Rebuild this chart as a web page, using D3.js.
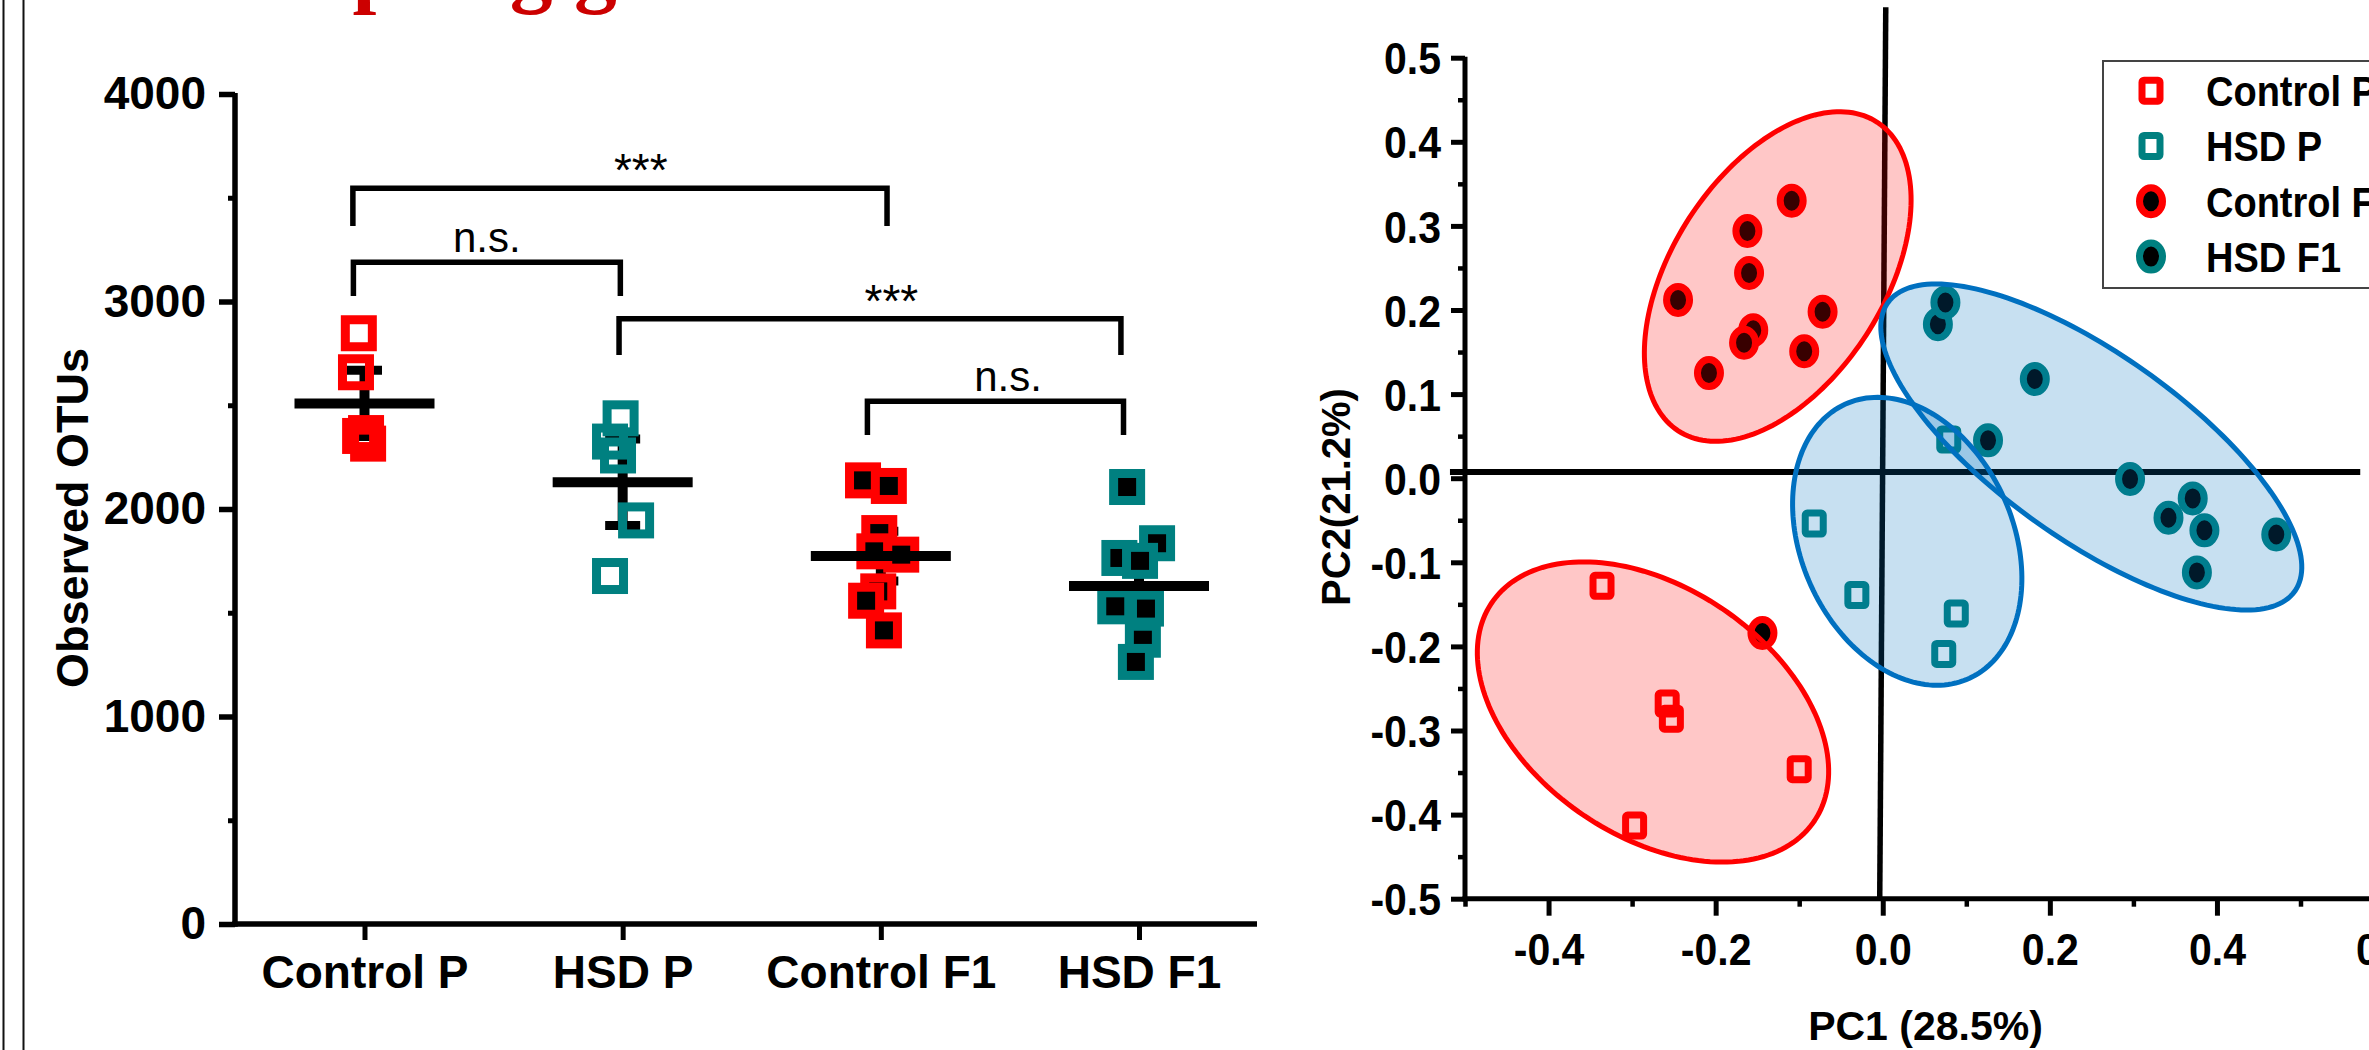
<!DOCTYPE html>
<html>
<head>
<meta charset="utf-8">
<script src="https://cdn.jsdelivr.net/npm/d3@7"></script>
<style>
  html, body { margin: 0; padding: 0; background: #ffffff; }
  svg { display: block; }
</style>
</head>
<body>
<svg id="fig" width="2369" height="1050"></svg>
<script>
// ---------------- Left panel: observed OTUs per group ----------------
const groups = ["Control P", "HSD P", "Control F1", "HSD F1"];
const otuTicks = [0, 1000, 2000, 3000, 4000];
const otuMinorTicks = [500, 1500, 2500, 3500];

// one array of OTU counts per group
const otuControlP  = [2847, 2659, 2366, 2352, 2315];
const otuHsdP      = [2437, 2325, 2258, 1945, 1677];
const otuControlF1 = [2138, 2111, 1884, 1796, 1780, 1603, 1558, 1415];
const otuHsdF1     = [2106, 1835, 1764, 1750, 1531, 1520, 1370, 1263];

// horizontal scatter of each point, in category units
const jitterControlP  = [-0.022, -0.033, 0.006, -0.017, 0.014];
const jitterHsdP      = [-0.008, -0.049, -0.018, 0.052, -0.049];
const jitterControlF1 = [-0.069, 0.031, -0.006, -0.025, 0.079, -0.010, -0.057, 0.012];
const jitterHsdF1     = [-0.046, 0.070, -0.076, 0.004, -0.092, 0.027, 0.015, -0.012];

// group mean and standard error
const groupMeans = [2509, 2129, 1773, 1629];
const groupSEM   = [160, 208, 120, 100];

// significance brackets: ends in category units, heights in OTUs
const bracketFrom  = [-0.045, -0.043, 0.986, 1.948];
const bracketTo    = [2.024, 0.991, 2.930, 2.940];
const bracketTop   = [3546, 3189, 2917, 2519];
const bracketFoot  = [3364, 3027, 2742, 2357];
const bracketLabel = ["***", "n.s.", "***", "n.s."];
const bracketLabelAt = [1.07, 0.474, 2.041, 2.493];

// ---------------- Right panel: PCoA ----------------
const pcxTicks = [-0.4, -0.2, 0.0, 0.2, 0.4, 0.6];
const pcxMinorTicks = [-0.5, -0.3, -0.1, 0.1, 0.3, 0.5];
const pcyTicks = [-0.5, -0.4, -0.3, -0.2, -0.1, 0.0, 0.1, 0.2, 0.3, 0.4, 0.5];
const pcyMinorTicks = [-0.45, -0.35, -0.25, -0.15, -0.05, 0.05, 0.15, 0.25, 0.35, 0.45];

const pcaControlP = [[-0.336, -0.128], [-0.258, -0.268], [-0.253, -0.286], [-0.100, -0.346], [-0.297, -0.413]];
const pcaHsdP = [[0.079, 0.046], [-0.082, -0.054], [-0.031, -0.139], [0.088, -0.161], [0.073, -0.209]];
const pcaControlF1 = [[-0.109, 0.330], [-0.162, 0.294], [-0.160, 0.244], [-0.245, 0.212], [-0.072, 0.198],
                      [-0.155, 0.176], [-0.166, 0.161], [-0.094, 0.151], [-0.208, 0.125], [-0.144, -0.184]];
const pcaHsdF1 = [[0.066, 0.183], [0.075, 0.209], [0.182, 0.118], [0.126, 0.045], [0.296, -0.001],
                  [0.371, -0.024], [0.342, -0.047], [0.385, -0.062], [0.471, -0.067], [0.376, -0.112]];

// confidence ellipses: centre, semi-axes (PC units) and tilt in degrees
const ellipseGroup = ["Control P", "HSD P", "Control F1", "HSD F1"];
const ellipseCx    = [-0.2750, 0.0293, -0.1257, 0.2496];
const ellipseCy    = [-0.2780, -0.0750, 0.2398, 0.0371];
const ellipseRx    = [0.2326, 0.1791, 0.2187, 0.2979];
const ellipseRy    = [0.1482, 0.1267, 0.1267, 0.1109];
const ellipseAngle = [-33.7, -65.4, 57.0, -35.1];

// origin reference lines (PC units)
const refVertical   = [[0.0036, 0.56], [-0.0036, -0.5]];
const refHorizontal = [[-0.518, 0.0074], [0.5715, 0.0074]];

// ---------------- styling ----------------
const RED = "#ff0000", TEAL = "#008080", BLUE = "#0070c0";
const groupStroke = { "Control P": RED, "HSD P": TEAL, "Control F1": RED, "HSD F1": TEAL };
const groupInner  = { "Control P": "none", "HSD P": "none", "Control F1": "#000000", "HSD F1": "#000000" };
const ellipseStroke = { "Control P": RED, "HSD P": BLUE, "Control F1": RED, "HSD F1": BLUE };
const ellipseFill   = { "Control P": "rgba(255,0,0,0.22)", "HSD P": "rgba(0,112,192,0.22)",
                        "Control F1": "rgba(255,0,0,0.22)", "HSD F1": "rgba(0,112,192,0.22)" };
const SANS = "'Liberation Sans', Arial, Helvetica, sans-serif";
const SERIF = "'Liberation Serif', 'Times New Roman', serif";

const svg = d3.select("#fig");
svg.append("rect").attr("width", 2369).attr("height", 1050).attr("fill", "#ffffff");

// page frame lines on the left edge
[3.5, 23.5].forEach(x => svg.append("line")
  .attr("x1", x).attr("x2", x).attr("y1", 0).attr("y2", 1050)
  .attr("stroke", "#111").attr("stroke-width", 2));

// section heading (sits mostly above the visible area)
const heading = svg.append("text")
  .attr("y", -4.4)
  .attr("font-family", SERIF).attr("font-weight", "bold").attr("font-size", 85.7)
  .attr("fill", "#cc0000")
  .text("Offspring gut microbiota");
{
  const node = heading.node();
  const idx = node.textContent.indexOf("p");
  const px = node.getStartPositionOfChar(idx).x;
  heading.attr("x", 352.5 - px);
}

// =============== LEFT PANEL ===============
const gL = svg.append("g");
const yL = d3.scaleLinear().domain([0, 4000]).range([924, 94]);
const xL = d3.scaleLinear().domain([0, 3]).range([364.5, 1139]);

function styleAxisText(g, size, weight) {
  g.selectAll(".tick text")
    .attr("font-family", SANS).attr("font-weight", weight)
    .attr("font-size", size).attr("fill", "#000");
}

// y axis
gL.append("g").attr("transform", "translate(235,0)")
  .call(d3.axisLeft(yL).tickValues(otuTicks).tickSize(16).tickPadding(13)
    .tickSizeOuter(0).tickFormat(d3.format("d")))
  .call(g => {
    g.select(".domain").remove();
    g.selectAll(".tick line").attr("stroke", "#000").attr("stroke-width", 5.5);
    styleAxisText(g, 46, "bold");
  });
gL.append("g").attr("transform", "translate(235,0)")
  .call(d3.axisLeft(yL).tickValues(otuMinorTicks).tickSize(7).tickSizeOuter(0).tickFormat(""))
  .call(g => {
    g.select(".domain").remove();
    g.selectAll(".tick line").attr("stroke", "#000").attr("stroke-width", 5);
  });

// x axis (categories)
gL.append("g").attr("transform", "translate(0,924)")
  .call(d3.axisBottom(xL).tickValues([0, 1, 2, 3]).tickSize(16).tickPadding(15)
    .tickSizeOuter(0).tickFormat(i => groups[i]))
  .call(g => {
    g.select(".domain").remove();
    g.selectAll(".tick line").attr("stroke", "#000").attr("stroke-width", 5);
    styleAxisText(g, 46, "bold");
  });

// axis lines
gL.append("line").attr("x1", 235).attr("x2", 235).attr("y1", yL(4000) - 1).attr("y2", yL(0) + 2.75)
  .attr("stroke", "#000").attr("stroke-width", 5.5);
gL.append("line").attr("x1", 232.25).attr("x2", 1257).attr("y1", yL(0)).attr("y2", yL(0))
  .attr("stroke", "#000").attr("stroke-width", 5.5);

// y axis title
gL.append("text")
  .attr("transform", "translate(88,518) rotate(-90)")
  .attr("text-anchor", "middle")
  .attr("font-family", SANS).attr("font-weight", "bold").attr("font-size", 45)
  .text("Observed OTUs");

// SEM bars (behind the points)
const semG = gL.append("g").attr("stroke", "#000");
groups.forEach((name, gi) => {
  const cx = xL(gi), m = groupMeans[gi], s = groupSEM[gi];
  semG.append("line").attr("x1", cx).attr("x2", cx)
    .attr("y1", yL(m + s)).attr("y2", yL(m - s)).attr("stroke-width", 10);
  [m + s, m - s].forEach(v => semG.append("line")
    .attr("x1", cx - 17.5).attr("x2", cx + 17.5).attr("y1", yL(v)).attr("y2", yL(v))
    .attr("stroke-width", 9));
});

// data points
const otuSeries = [otuControlP, otuHsdP, otuControlF1, otuHsdF1];
const jitterSeries = [jitterControlP, jitterHsdP, jitterControlF1, jitterHsdF1];
const SQ = 27;
otuSeries.forEach((vals, gi) => {
  const name = groups[gi];
  gL.append("g").selectAll("rect").data(vals).join("rect")
    .attr("x", (d, i) => xL(gi + jitterSeries[gi][i]) - SQ / 2)
    .attr("y", d => yL(d) - SQ / 2)
    .attr("width", SQ).attr("height", SQ)
    .attr("fill", groupInner[name])
    .attr("stroke", groupStroke[name]).attr("stroke-width", 9);
});

// group means (over the points)
groups.forEach((name, gi) => {
  const cx = xL(gi), m = groupMeans[gi];
  gL.append("line").attr("x1", cx - 70).attr("x2", cx + 70)
    .attr("y1", yL(m)).attr("y2", yL(m)).attr("stroke", "#000").attr("stroke-width", 10);
});

// significance brackets
bracketLabel.forEach((lab, i) => {
  const x1 = xL(bracketFrom[i]), x2 = xL(bracketTo[i]);
  const yt = yL(bracketTop[i]), yf = yL(bracketFoot[i]);
  gL.append("path")
    .attr("d", `M${x1},${yf} V${yt} H${x2} V${yf}`)
    .attr("fill", "none").attr("stroke", "#000").attr("stroke-width", 5.5)
    .attr("stroke-linejoin", "miter");
  const isStars = lab === "***";
  gL.append("text")
    .attr("x", xL(bracketLabelAt[i]))
    .attr("y", yt - (isStars ? 2 : 10))
    .attr("text-anchor", "middle")
    .attr("font-family", SANS).attr("font-size", isStars ? 46 : 42)
    .text(lab);
});

// =============== RIGHT PANEL ===============
const gR = svg.append("g");
const xR = d3.scaleLinear().domain([-0.5, 0.6]).range([1465, 1465 + 1.1 * 835.5]);
const yR = d3.scaleLinear().domain([-0.5, 0.5]).range([898.7, 57.7]);
const STRETCH = 1.1;
const fmt1 = d3.format(".1f");
const minusFmt = d => fmt1(d).replace("−", "-");

// y axis
gR.append("g").attr("transform", `translate(${xR(-0.5)},0)`)
  .call(d3.axisLeft(yR).tickValues(pcyTicks).tickSize(14).tickSizeOuter(0).tickFormat(minusFmt))
  .call(g => {
    g.select(".domain").remove();
    g.selectAll(".tick line").attr("stroke", "#000").attr("stroke-width", 5);
    styleAxisText(g, 41, "bold");
    g.selectAll(".tick text")
      .attr("x", -24).attr("y", 0).attr("dy", "0.358em")
      .attr("transform", `scale(1,${STRETCH})`);
  });
gR.append("g").attr("transform", `translate(${xR(-0.5)},0)`)
  .call(d3.axisLeft(yR).tickValues(pcyMinorTicks).tickSize(7).tickSizeOuter(0).tickFormat(""))
  .call(g => {
    g.select(".domain").remove();
    g.selectAll(".tick line").attr("stroke", "#000").attr("stroke-width", 4.5);
  });

// x axis
gR.append("g").attr("transform", `translate(0,${yR(-0.5)})`)
  .call(d3.axisBottom(xR).tickValues(pcxTicks).tickSize(17).tickSizeOuter(0).tickFormat(minusFmt))
  .call(g => {
    g.select(".domain").remove();
    g.selectAll(".tick line").attr("stroke", "#000").attr("stroke-width", 5);
    styleAxisText(g, 41, "bold");
    g.selectAll(".tick text")
      .attr("y", 66 / STRETCH).attr("dy", 0)
      .attr("transform", `scale(1,${STRETCH})`);
  });
gR.append("g").attr("transform", `translate(0,${yR(-0.5)})`)
  .call(d3.axisBottom(xR).tickValues(pcxMinorTicks).tickSize(8).tickSizeOuter(0).tickFormat(""))
  .call(g => {
    g.select(".domain").remove();
    g.selectAll(".tick line").attr("stroke", "#000").attr("stroke-width", 4.5);
  });

// axis lines
gR.append("line").attr("x1", xR(-0.5)).attr("x2", xR(-0.5))
  .attr("y1", yR(0.5) - 1).attr("y2", yR(-0.5) + 2.5)
  .attr("stroke", "#000").attr("stroke-width", 5);
gR.append("line").attr("x1", xR(-0.5) - 2.5).attr("x2", xR(0.6))
  .attr("y1", yR(-0.5)).attr("y2", yR(-0.5))
  .attr("stroke", "#000").attr("stroke-width", 5);

// axis titles
gR.append("text")
  .attr("x", 1925.5).attr("y", 1039.5)
  .attr("text-anchor", "middle")
  .attr("font-family", SANS).attr("font-weight", "bold").attr("font-size", 41)
  .text("PC1 (28.5%)");
gR.append("text")
  .attr("transform", "translate(1350,497) rotate(-90)")
  .attr("text-anchor", "middle")
  .attr("font-family", SANS).attr("font-weight", "bold").attr("font-size", 40)
  .text("PC2(21.2%)");

// origin reference lines
const refLine = d3.line().x(d => xR(d[0])).y(d => yR(d[1]));
gR.append("path").attr("d", refLine(refHorizontal))
  .attr("stroke", "#000").attr("stroke-width", 6).attr("fill", "none");
gR.append("path").attr("d", refLine(refVertical))
  .attr("stroke", "#000").attr("stroke-width", 5.5).attr("fill", "none");

// markers
function drawMarker(sel, shape, name, inner) {
  if (shape === "square") {
    sel.append("rect").attr("x", -9).attr("y", -10.5).attr("width", 18).attr("height", 21)
      .attr("rx", 2).attr("ry", 2)
      .attr("fill", inner).attr("stroke", groupStroke[name]).attr("stroke-width", 7);
  } else {
    sel.append("ellipse").attr("rx", 11.5).attr("ry", 13.5)
      .attr("fill", inner).attr("stroke", groupStroke[name]).attr("stroke-width", 7);
  }
}
const pcaSeries = [pcaControlP, pcaHsdP, pcaControlF1, pcaHsdF1];
const pcaShape = ["square", "square", "circle", "circle"];
pcaSeries.forEach((pts, gi) => {
  const name = groups[gi];
  pts.forEach(p => {
    const m = gR.append("g").attr("transform", `translate(${xR(p[0])},${yR(p[1])})`);
    drawMarker(m, pcaShape[gi], name, groupInner[name]);
  });
});

// confidence ellipses drawn over the points with translucent fill
const ellipseLine = d3.line().x(d => xR(d[0])).y(d => yR(d[1])).curve(d3.curveLinearClosed);
ellipseGroup.forEach((name, i) => {
  const phi = ellipseAngle[i] * Math.PI / 180;
  const pts = d3.range(0, 360, 2).map(deg => {
    const t = deg * Math.PI / 180;
    const dx = ellipseRx[i] * Math.cos(t) * Math.cos(phi) - ellipseRy[i] * Math.sin(t) * Math.sin(phi);
    const dy = ellipseRx[i] * Math.cos(t) * Math.sin(phi) + ellipseRy[i] * Math.sin(t) * Math.cos(phi);
    return [ellipseCx[i] + dx, ellipseCy[i] + dy];
  });
  gR.append("path").attr("d", ellipseLine(pts))
    .attr("fill", ellipseFill[name])
    .attr("stroke", ellipseStroke[name]).attr("stroke-width", 5);
});

// legend
const legend = gR.append("g");
legend.append("rect").attr("x", 2103).attr("y", 61).attr("width", 320).attr("height", 227)
  .attr("fill", "#ffffff").attr("stroke", "#444").attr("stroke-width", 2);
groups.forEach((name, i) => {
  const cy = 90.7 + i * 55.3;
  const m = legend.append("g").attr("transform", `translate(2151,${cy})`);
  drawMarker(m, pcaShape[i], name, groupInner[name] === "none" ? "#ffffff" : groupInner[name]);
  legend.append("text")
    .attr("transform", `translate(2206,${cy}) scale(1,1.13)`)
    .attr("dy", "0.358em")
    .attr("font-family", SANS).attr("font-weight", "bold").attr("font-size", 38)
    .text(name);
});
</script>
</body>
</html>
